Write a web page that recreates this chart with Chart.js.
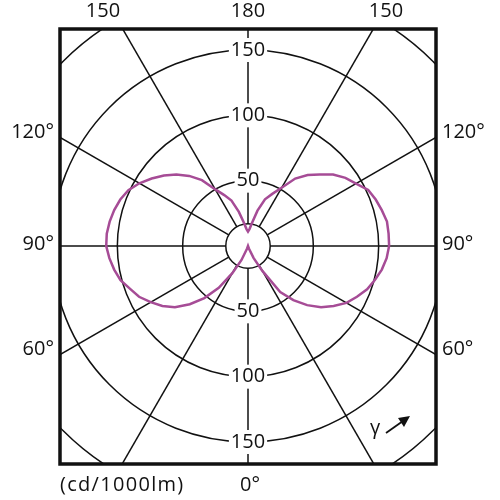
<!DOCTYPE html>
<html>
<head>
<meta charset="utf-8">
<script src="https://cdn.jsdelivr.net/npm/chart.js@4.4.1/dist/chart.umd.min.js"></script>
<style>
	html, body { margin: 0; padding: 0; background: #fff; }
	#wrap { width: 500px; height: 500px; position: relative; }
</style>
</head>
<body>
<div id="wrap"><canvas id="polar"></canvas></div>
<script>
// gamma (deg), 0 = straight down, 180 = straight up
const gammaDeg = [0, 5, 10, 15, 20, 25, 30, 35, 40, 45, 50, 55, 60, 65, 70, 75, 80, 85, 90,
	95, 100, 105, 110, 115, 120, 125, 130, 135, 140, 145, 150, 155, 160, 165, 170, 175, 180];
// cd/1000lm, right half of the plot
const intensityRight = [0, 0, 0, 0, 2, 10, 22, 43, 54, 64, 73, 80, 87, 92, 97, 100.5, 104, 106.5, 108,
	108, 108, 106, 104, 101.5, 95.5, 91, 85, 77.5, 71, 63, 51.5, 44, 38, 28, 18, 13, 11];
// cd/1000lm, left half of the plot
const intensityLeft = [0, 0, 0, 0, 2, 12, 24, 39, 52, 63, 73, 80, 86, 92, 96, 101, 104, 106.5, 108.5,
	108.5, 107.5, 106, 104, 101, 96, 90, 84, 77.5, 70, 61.5, 50, 43, 37, 27, 18, 13, 11];
const radialTicks = [50, 100, 150];
const topLabels = ['150', '180', '150'];
const sideLabels = ['120°', '90°', '60°'];
const unitLabel = '(cd/1000lm)';
const bottomLabel = '0°';

const ink = '#111';
const curveColor = '#a64c96';
const family = "'Open Sans', 'DejaVu Sans', sans-serif";
const frame = { left: 60, top: 29, right: 436, bottom: 464 };

// radar goes clockwise from the top: right half first (180 -> 0), then left half (5 -> 175)
const labels = [];
const values = [];
for (let i = gammaDeg.length - 1; i >= 0; i--) {
	labels.push(gammaDeg[i]);
	values.push(intensityRight[i]);
}
for (let i = 1; i < gammaDeg.length - 1; i++) {
	labels.push(gammaDeg[i]);
	values.push(intensityLeft[i]);
}

const polarDecor = {
	id: 'polarDecor',
	beforeDraw(chart) {
		const ctx = chart.ctx;
		const r = chart.scales.r;
		// clip stays on while the scale draws its rings, undone in beforeDatasetsDraw
		ctx.save();
		ctx.beginPath();
		ctx.rect(frame.left, frame.top, frame.right - frame.left, frame.bottom - frame.top);
		ctx.clip();
		ctx.strokeStyle = ink;
		ctx.lineWidth = 1.5;
		// spokes every 30 deg, from the hub outwards
		const hub = r.getDistanceFromCenterForValue(17);
		const step = chart.data.labels.length / 12;
		for (let k = 0; k < 12; k++) {
			const a = r.getPointPosition(k * step, hub);
			const b = r.getPointPosition(k * step, 700);
			ctx.beginPath();
			ctx.moveTo(a.x, a.y);
			ctx.lineTo(b.x, b.y);
			ctx.stroke();
		}
		// 200 ring, only the corners are inside the frame
		ctx.beginPath();
		ctx.arc(r.xCenter, r.yCenter, r.getDistanceFromCenterForValue(200), 0, Math.PI * 2);
		ctx.stroke();
	},
	beforeDatasetsDraw(chart) {
		const ctx = chart.ctx;
		const r = chart.scales.r;
		ctx.restore();
		ctx.save();
		ctx.strokeStyle = ink;
		ctx.lineWidth = 1.5;
		ctx.beginPath();
		ctx.arc(r.xCenter, r.yCenter, r.getDistanceFromCenterForValue(17), 0, Math.PI * 2);
		ctx.stroke();
		// tick labels repeated on the lower half
		ctx.font = `20px ${family}`;
		ctx.textAlign = 'center';
		ctx.textBaseline = 'middle';
		radialTicks.forEach(v => {
			const y = r.yCenter + r.getDistanceFromCenterForValue(v);
			const w = ctx.measureText(String(v)).width;
			ctx.fillStyle = '#fff';
			ctx.fillRect(r.xCenter - w / 2 - 2, y - 12, w + 4, 24);
			ctx.fillStyle = ink;
			ctx.fillText(String(v), r.xCenter, y);
		});
		ctx.restore();
	},
	afterDraw(chart) {
		const ctx = chart.ctx;
		ctx.save();
		ctx.strokeStyle = ink;
		ctx.lineWidth = 3.5;
		ctx.strokeRect(frame.left, frame.top, frame.right - frame.left, frame.bottom - frame.top);

		ctx.fillStyle = ink;
		ctx.font = `20px ${family}`;
		ctx.textBaseline = 'alphabetic';
		ctx.textAlign = 'center';
		[103, 248, 386].forEach((x, i) => ctx.fillText(topLabels[i], x, 17));
		const sideY = [138, 250, 355];
		ctx.textAlign = 'right';
		sideLabels.forEach((t, i) => ctx.fillText(t, 54, sideY[i]));
		ctx.textAlign = 'left';
		sideLabels.forEach((t, i) => ctx.fillText(t, 442, sideY[i]));

		ctx.textAlign = 'center';
		ctx.fillText(bottomLabel, 250, 491);
		ctx.textAlign = 'left';
		ctx.letterSpacing = '1.3px';
		ctx.fillText(unitLabel, 60, 491);
		ctx.letterSpacing = '0px';

		// gamma direction arrow
		ctx.textAlign = 'center';
		ctx.fillText('γ', 375, 434);
		ctx.lineWidth = 1.8;
		ctx.beginPath();
		ctx.moveTo(386, 433);
		ctx.lineTo(403, 421);
		ctx.stroke();
		ctx.beginPath();
		ctx.moveTo(410, 416);
		ctx.lineTo(398, 418);
		ctx.lineTo(404, 427);
		ctx.closePath();
		ctx.fill();
		ctx.restore();
	}
};

new Chart(document.getElementById('polar'), {
	type: 'radar',
	data: {
		labels,
		datasets: [{
			data: values,
			borderColor: curveColor,
			borderWidth: 2.5,
			fill: false,
			pointRadius: 0,
			tension: 0
		}]
	},
	options: {
		responsive: true,
		maintainAspectRatio: false,
		animation: false,
		layout: { autoPadding: false, padding: { left: 40, right: 44, top: 38, bottom: 45 } },
		plugins: {
			legend: { display: false },
			tooltip: { enabled: false }
		},
		scales: {
			r: {
				min: 0,
				max: 150,
				startAngle: 0,
				ticks: {
					stepSize: 50,
					color: ink,
					font: { family, size: 20 },
					backdropColor: '#fff',
					backdropPadding: 2
				},
				grid: { color: ink, lineWidth: 1.5, circular: true },
				angleLines: { display: false },
				pointLabels: { display: false }
			}
		}
	},
	plugins: [polarDecor]
});
</script>
</body>
</html>
